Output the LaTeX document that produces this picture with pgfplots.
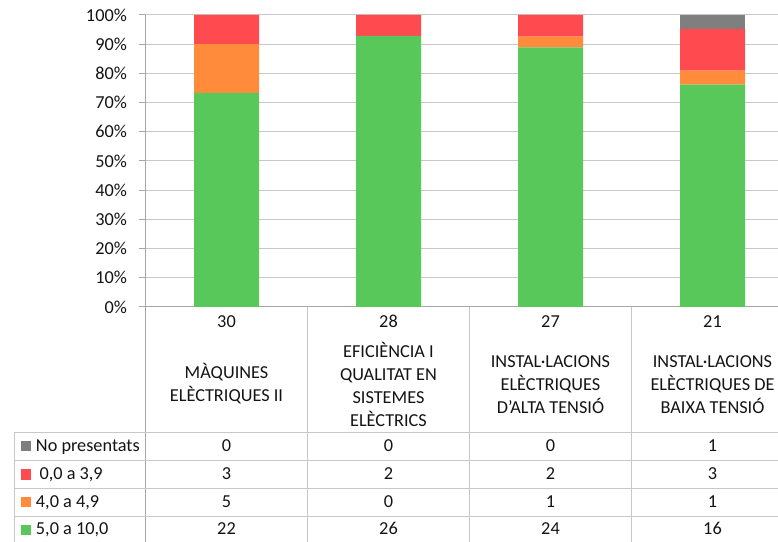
\documentclass[border=0pt]{standalone}
\usepackage{fontspec}
\setmainfont{Carlito}
\usepackage{pgfplots}
\pgfplotsset{compat=1.18}
\usepackage{pgfplotstable}
\definecolor{cgreen}{HTML}{58C85B}
\definecolor{corange}{HTML}{FF8B3B}
\definecolor{cred}{HTML}{FF4B4F}
\definecolor{cgray}{HTML}{7F7F7F}
\definecolor{gridc}{HTML}{C8C8C8}
\definecolor{axc}{HTML}{A6A6A6}
\definecolor{txt}{HTML}{141414}

% counts per grade band
\pgfplotstableread{
x np low mid high tot
0 0 3 5 22 30
1 0 2 0 26 28
2 0 2 1 24 27
3 1 3 1 16 21
}\counts

% percentages of each subject total
\pgfplotstableread{
x high mid low np
0 73.333 16.667 10.000 0
1 92.857 0 7.143 0
2 88.889 3.704 7.407 0
3 76.190 4.762 14.286 4.762
}\pct

\begin{document}
\begin{tikzpicture}[font=\fontsize{13.7pt}{17.25pt}\selectfont, text=txt]
\begin{axis}[at={(0pt,0pt)}, anchor=south west, scale only axis,
  width=474.375pt, height=219pt,
  xmin=-0.5, xmax=3.404, ymin=0, ymax=100,
  ybar stacked, bar width=48.75pt,
  xtick=\empty, ytick={0,10,...,100},
  yticklabel={\pgfmathprintnumber{\tick}\%},
  /pgf/number format/assume math mode=true,
  axis x line=bottom, axis y line=left,
  axis line style={draw=axc, line width=0.75pt, -},
  ymajorgrids, grid style={draw=gridc, line width=0.75pt},
  tick align=outside, major tick length=4.5pt,
  tick style={draw=axc, line width=0.75pt},
  yticklabel style={font=\fontsize{13.7pt}{17.25pt}\selectfont, text=txt, inner sep=0pt, anchor=east, xshift=-9.3pt},
  ]
  \addplot[fill=cgreen, draw=none] table[x=x, y=high]{\pct};
  \addplot[fill=corange, draw=none] table[x=x, y=mid]{\pct};
  \addplot[fill=cred, draw=none] table[x=x, y=low]{\pct};
  \addplot[fill=cgray, draw=none] table[x=x, y=np]{\pct};
\end{axis}
\begin{scope}[x=0.75pt, y=-0.75pt, shift={(-109.125pt,230.25pt)}]
  \draw[axc, line width=0.75pt] (145.5,307) -- (145.5,542);
  \foreach \xx in {307.5,469.5,631.5} \draw[gridc, line width=0.75pt] (\xx,307) -- (\xx,542);
  \foreach \yy in {432.7,460.7,488.7,516.7} \draw[gridc, line width=0.75pt] (14.3,\yy) -- (778,\yy);
  \draw[gridc, line width=0.75pt] (14.3,432.7) -- (14.3,542);
  % totals
  \foreach \i in {0,...,3} {
    \pgfplotstablegetelem{\i}{tot}\of\counts
    \node[anchor=base, inner sep=0pt] at ({226.5+162*\i},327.3) {\pgfplotsretval};
  }
  % category names
  \node[align=center, inner sep=0pt] at (226.5,384) {MÀQUINES\\ELÈCTRIQUES II};
  \node[align=center, inner sep=0pt] at (388.5,384.5) {EFICIÈNCIA I\\QUALITAT EN\\SISTEMES\\ELÈCTRICS};
  \node[align=center, inner sep=0pt] at (550.5,384.5) {INSTAL·LACIONS\\ELÈCTRIQUES\\D'ALTA TENSIÓ};
  \node[align=center, inner sep=0pt] at (712.5,384.5) {INSTAL·LACIONS\\ELÈCTRIQUES DE\\BAIXA TENSIÓ};
  % values
  \foreach \col/\yb in {np/451.6, low/479.9, mid/507.3, high/534.9} {
    \foreach \i in {0,...,3} {
      \pgfplotstablegetelem{\i}{\col}\of\counts
      \node[anchor=base, inner sep=0pt] at ({226.5+162*\i},\yb) {\pgfplotsretval};
    }
  }
  % legend keys
  \fill[cgray]   (20.7,441.2) rectangle (30.9,451.4);
  \fill[cred]    (20.7,469.4) rectangle (30.9,479.6);
  \fill[corange] (20.7,496.9) rectangle (30.9,507.1);
  \fill[cgreen]  (20.7,524.6) rectangle (30.9,534.8);
  \node[anchor=base west, inner sep=0pt] at (35.7,451.6) {No presentats};
  \node[anchor=base west, inner sep=0pt] at (39.3,479.9) {0,0 a 3,9};
  \node[anchor=base west, inner sep=0pt] at (35.7,507.3) {4,0 a 4,9};
  \node[anchor=base west, inner sep=0pt] at (35.7,534.9) {5,0 a 10,0};
  \pgfresetboundingbox
  \path (0,0) rectangle (778,542);
\end{scope}
\end{tikzpicture}
\end{document}
